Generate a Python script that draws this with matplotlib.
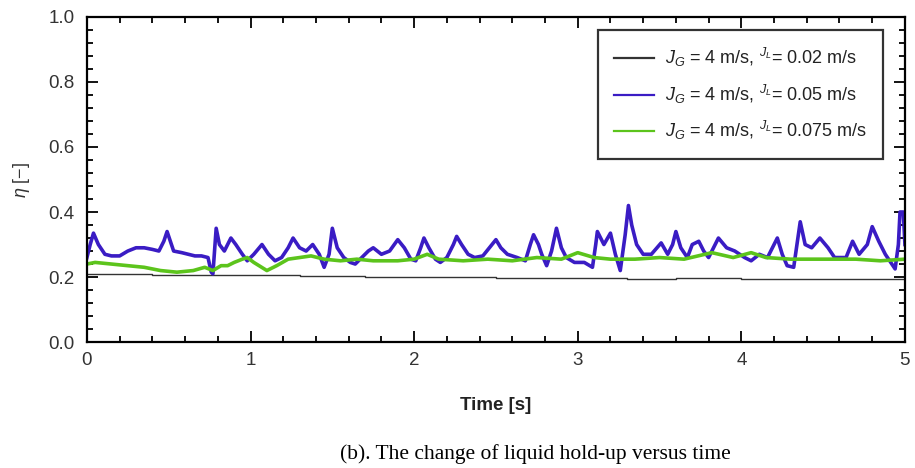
import numpy as np
import matplotlib
matplotlib.use('Agg')
import matplotlib.pyplot as plt
from matplotlib.ticker import MultipleLocator

plt.rcParams['font.family'] = ['Liberation Sans', 'DejaVu Sans']
plt.rcParams['mathtext.fontset'] = 'custom'
plt.rcParams['mathtext.rm'] = 'Liberation Sans'
plt.rcParams['mathtext.it'] = 'Liberation Sans:italic'

# liquid hold-up, J_L = 0.02 m/s (black)
t_black = [0.00, 0.40, 0.80, 1.30, 1.70, 2.50, 2.80, 3.30, 3.60, 4.00, 4.50, 5.00]
eta_black = [0.210, 0.207, 0.205, 0.202, 0.200, 0.198, 0.197, 0.195, 0.196, 0.195, 0.193, 0.192]

# J_L = 0.05 m/s (blue)
t_blue = [0.00, 0.02, 0.04, 0.07, 0.11, 0.15, 0.20, 0.25, 0.30, 0.35, 0.40, 0.44, 0.47, 0.49,
          0.51, 0.53, 0.58, 0.62, 0.66, 0.70, 0.74, 0.76, 0.77, 0.79, 0.81, 0.84, 0.88, 0.91,
          0.95, 0.98, 1.02, 1.07, 1.11, 1.15, 1.19, 1.23, 1.26, 1.30, 1.34, 1.38, 1.42, 1.45,
          1.48, 1.50, 1.53, 1.57, 1.61, 1.64, 1.68, 1.72, 1.75, 1.80, 1.85, 1.90, 1.94, 1.98,
          2.01, 2.04, 2.06, 2.09, 2.13, 2.16, 2.20, 2.24, 2.26, 2.29, 2.33, 2.37, 2.42, 2.46,
          2.50, 2.53, 2.57, 2.63, 2.68, 2.71, 2.73, 2.76, 2.78, 2.81, 2.84, 2.87, 2.90, 2.93,
          2.98, 3.04, 3.09, 3.11, 3.12, 3.16, 3.20, 3.23, 3.26, 3.29, 3.31, 3.33, 3.36, 3.40,
          3.45, 3.51, 3.55, 3.58, 3.60, 3.63, 3.67, 3.70, 3.74, 3.77, 3.80, 3.83, 3.86, 3.91,
          3.96, 4.02, 4.06, 4.11, 4.16, 4.20, 4.22, 4.25, 4.28, 4.32, 4.34, 4.36, 4.39, 4.43,
          4.48, 4.53, 4.57, 4.64, 4.68, 4.72, 4.77, 4.80, 4.84, 4.88, 4.94, 4.96, 4.97, 4.99, 5.00]
eta_blue = [0.26, 0.30, 0.335, 0.30, 0.27, 0.265, 0.265, 0.28, 0.29, 0.29, 0.285, 0.28, 0.31, 0.34,
            0.31, 0.28, 0.275, 0.27, 0.265, 0.265, 0.26, 0.215, 0.21, 0.35, 0.30, 0.28, 0.32, 0.30,
            0.27, 0.25, 0.27, 0.30, 0.27, 0.25, 0.26, 0.29, 0.32, 0.29, 0.28, 0.30, 0.27, 0.23,
            0.27, 0.35, 0.29, 0.26, 0.245, 0.24, 0.26, 0.28, 0.29, 0.27, 0.28, 0.315, 0.29, 0.255,
            0.25, 0.29, 0.32, 0.29, 0.255, 0.245, 0.26, 0.30, 0.325, 0.30, 0.27, 0.26, 0.265, 0.29,
            0.315, 0.29, 0.27, 0.26, 0.25, 0.30, 0.33, 0.30, 0.27, 0.235, 0.28, 0.35, 0.29, 0.26,
            0.245, 0.245, 0.23, 0.30, 0.34, 0.30, 0.335, 0.27, 0.22, 0.33, 0.42, 0.36, 0.30, 0.27,
            0.27, 0.305, 0.27, 0.30, 0.34, 0.29, 0.26, 0.30, 0.31, 0.28, 0.26, 0.29, 0.32, 0.29,
            0.28, 0.26, 0.25, 0.27, 0.26, 0.30, 0.32, 0.27, 0.235, 0.23, 0.30, 0.37, 0.30, 0.29,
            0.32, 0.29, 0.26, 0.26, 0.31, 0.27, 0.30, 0.355, 0.31, 0.27, 0.225, 0.30, 0.40, 0.40, 0.30]

# J_L = 0.075 m/s (green)
t_green = [0.00, 0.05, 0.15, 0.25, 0.35, 0.45, 0.55, 0.65, 0.72, 0.77, 0.82, 0.86, 0.90, 0.95,
           0.98, 1.02, 1.10, 1.16, 1.23, 1.30, 1.37, 1.45, 1.55, 1.65, 1.75, 1.90, 2.00, 2.08,
           2.15, 2.30, 2.45, 2.60, 2.75, 2.90, 3.00, 3.10, 3.20, 3.35, 3.50, 3.65, 3.82, 3.95,
           4.06, 4.15, 4.30, 4.50, 4.70, 4.85, 5.00]
eta_green = [0.240, 0.245, 0.240, 0.235, 0.230, 0.220, 0.215, 0.220, 0.230, 0.220, 0.235, 0.235,
             0.245, 0.255, 0.260, 0.245, 0.220, 0.235, 0.255, 0.260, 0.265, 0.255, 0.250, 0.255,
             0.250, 0.250, 0.255, 0.270, 0.255, 0.250, 0.255, 0.250, 0.260, 0.255, 0.275, 0.260,
             0.255, 0.255, 0.260, 0.255, 0.275, 0.260, 0.275, 0.260, 0.255, 0.255, 0.255, 0.250, 0.255]

labels = [r'$J_G$ = 4 m/s, $^{J_L}$= 0.02 m/s',
          r'$J_G$ = 4 m/s, $^{J_L}$= 0.05 m/s',
          r'$J_G$ = 4 m/s, $^{J_L}$= 0.075 m/s']

fig = plt.figure(figsize=(9.15, 4.68), dpi=100)
ax = fig.add_axes([0.095, 0.269, 0.894, 0.695])

ax.plot(t_black, eta_black, color='#333333', lw=1.0, drawstyle='steps-post', label=labels[0])
ax.plot(t_blue, eta_blue, color='#3a1cc4', lw=2.6, label=labels[1])
ax.plot(t_green, eta_green, color='#5cc41c', lw=2.6, label=labels[2])

ax.set_xlim(0, 5)
ax.set_ylim(0, 1.0)
ax.xaxis.set_major_locator(MultipleLocator(1))
ax.xaxis.set_minor_locator(MultipleLocator(0.2))
ax.yaxis.set_major_locator(MultipleLocator(0.2))
ax.yaxis.set_minor_locator(MultipleLocator(0.04))
ax.yaxis.set_major_formatter(plt.FormatStrFormatter('%.1f'))

ax.tick_params(which='both', direction='in', top=True, right=True, width=1.3,
               labelsize=13.5, labelcolor='#333333')
ax.tick_params(which='major', length=8)
ax.tick_params(which='minor', length=4.5)
ax.tick_params(axis='x', pad=7)
ax.tick_params(axis='y', pad=9)
for s in ax.spines.values():
    s.set_linewidth(1.6)

ax.set_xlabel('Time [s]', fontsize=13.5, fontweight='bold', color='#222222', labelpad=20)
ax.set_ylabel(r'$\eta$ [$-$]', fontsize=13, color='#333333', labelpad=12)

leg = ax.legend(loc='upper right', bbox_to_anchor=(0.973, 0.96), borderaxespad=0,
                fontsize=13, frameon=True, fancybox=False, edgecolor='black',
                handlelength=2.2, labelspacing=0.75, borderpad=0.9, handletextpad=0.6)
leg.get_frame().set_linewidth(1.6)
for ln in leg.get_lines():
    ln.set_linewidth(1.6)
for tx in leg.get_texts():
    tx.set_color('#222222')

fig.text(0.585, 0.02, '(b). The change of liquid hold-up versus time',
         fontsize=15.5, family=['Liberation Serif', 'DejaVu Serif'], ha='center', va='baseline')

fig.savefig('out.png', dpi=100)
